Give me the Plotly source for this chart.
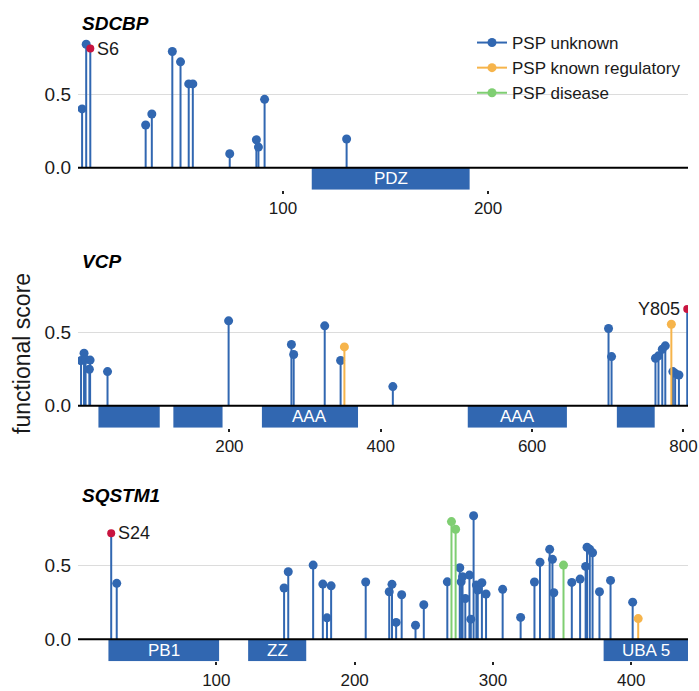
import plotly.graph_objects as go

# ---------------- data ----------------
sdcbp_unknown_pos = [2, 4, 33, 36, 46, 50, 54, 56, 74, 87, 88, 91, 131]
sdcbp_unknown_val = [0.40, 0.84, 0.29, 0.365, 0.79, 0.72, 0.57, 0.57, 0.095, 0.19, 0.14, 0.465, 0.195]
sdcbp_reg_pos, sdcbp_reg_val = [], []
sdcbp_dis_pos, sdcbp_dis_val = [], []
sdcbp_hi_pos, sdcbp_hi_val, sdcbp_hi_lab = [6], [0.81], ["S6"]
sdcbp_domains = [(114, 191, "PDZ")]
sdcbp_len = 297.5
sdcbp_ticks = [100, 200]

vcp_unknown_pos = [4, 8, 10, 15, 16, 39, 199, 282, 285, 326, 347, 416,
                   701, 705, 763, 767, 772, 776, 786, 789, 794]
vcp_unknown_val = [0.307, 0.357, 0.315, 0.248, 0.31, 0.232, 0.577, 0.416, 0.348, 0.543, 0.307, 0.13,
                   0.525, 0.334, 0.323, 0.339, 0.384, 0.407, 0.232, 0.22, 0.209]
vcp_reg_pos, vcp_reg_val = [352, 784], [0.40, 0.554]
vcp_dis_pos, vcp_dis_val = [], []
vcp_hi_pos, vcp_hi_val, vcp_hi_lab = [805], [0.657], ["Y805"]
vcp_domains = [(27, 108, ""), (126, 191, ""), (243, 370, "AAA"), (515, 646, "AAA"), (712, 762, "")]
vcp_len = 806
vcp_ticks = [200, 400, 600, 800]

sqstm1_unknown_pos = [28, 149, 152, 170, 177, 180, 183, 208, 225, 227, 230, 234, 244, 250,
                      267, 276, 277, 278, 280, 283, 284, 286, 288, 289, 292, 295,
                      307, 320, 330, 334, 341, 343, 344,
                      357, 363, 367, 368, 370, 372, 377, 385, 401]
sqstm1_unknown_val = [0.38, 0.348, 0.459, 0.504, 0.375, 0.145, 0.363, 0.389, 0.323, 0.373, 0.114, 0.302, 0.095, 0.234,
                      0.39, 0.486, 0.39, 0.425, 0.277, 0.436, 0.136, 0.84, 0.368, 0.334, 0.384, 0.307,
                      0.339, 0.148, 0.389, 0.523, 0.611, 0.543, 0.316,
                      0.386, 0.409, 0.495, 0.625, 0.611, 0.588, 0.323, 0.40, 0.252]
sqstm1_reg_pos, sqstm1_reg_val = [405], [0.14]
sqstm1_dis_pos, sqstm1_dis_val = [270, 273, 351], [0.80, 0.748, 0.504]
sqstm1_hi_pos, sqstm1_hi_val, sqstm1_hi_lab = [24], [0.72], ["S24"]
sqstm1_domains = [(22, 102, "PB1"), (123, 165, "ZZ"), (380, 441, "UBA 5")]
sqstm1_len = 441
sqstm1_ticks = [100, 200, 300, 400]

series_names = ["PSP unknown", "PSP known regulatory", "PSP disease"]
y_ticks = [0, 0.5]
y_ticktext = ["0.0", "0.5"]

# ---------------- style ----------------
BLUE = "#3167b1"
ORANGE = "#f6b44b"
GREEN = "#7fce72"
RED = "#c8143f"
TXT = "#1a1a1a"
FONT = "Liberation Sans, Arial, sans-serif"

panels = [
    dict(name="SDCBP", unk=(sdcbp_unknown_pos, sdcbp_unknown_val), reg=(sdcbp_reg_pos, sdcbp_reg_val),
         dis=(sdcbp_dis_pos, sdcbp_dis_val), hi=(sdcbp_hi_pos, sdcbp_hi_val, sdcbp_hi_lab),
         dom=sdcbp_domains, length=sdcbp_len, ticks=sdcbp_ticks, side=["left"]),
    dict(name="VCP", unk=(vcp_unknown_pos, vcp_unknown_val), reg=(vcp_reg_pos, vcp_reg_val),
         dis=(vcp_dis_pos, vcp_dis_val), hi=(vcp_hi_pos, vcp_hi_val, vcp_hi_lab),
         dom=vcp_domains, length=vcp_len, ticks=vcp_ticks, side=["right"]),
    dict(name="SQSTM1", unk=(sqstm1_unknown_pos, sqstm1_unknown_val), reg=(sqstm1_reg_pos, sqstm1_reg_val),
         dis=(sqstm1_dis_pos, sqstm1_dis_val), hi=(sqstm1_hi_pos, sqstm1_hi_val, sqstm1_hi_lab),
         dom=sqstm1_domains, length=sqstm1_len, ticks=sqstm1_ticks, side=["left"]),
]

W, H = 699, 691
ML, MR, MT, MB = 78, 11, 20, 10
PH = H - MT - MB
YMIN, YMAX = -0.15, 0.94
panel_tops_px = [29.5, 267.5, 501.0]
panel_h_px = (YMAX - YMIN) * 147


def py(px):
    return (H - MB - px) / PH


def stems(pos, val):
    xs, ys = [], []
    for p, v in zip(pos, val):
        xs += [p, p, None]
        ys += [0, v, None]
    return xs, ys


fig = go.Figure()
shapes = []
annotations = []

for i, pnl in enumerate(panels):
    k = "" if i == 0 else str(i + 1)
    xa, ya = "x" + k, "y" + k
    top = panel_tops_px[i]
    bottom = top + panel_h_px
    fig.update_layout(**{
        "xaxis" + k: dict(domain=[0, 1], range=[0, pnl["length"]], anchor=ya,
                          tickvals=pnl["ticks"], ticks="outside", ticklen=3, tickwidth=2,
                          tickcolor="#222", showgrid=False, zeroline=False, showline=False,
                          tickfont=dict(size=17, color=TXT, family=FONT)),
        "yaxis" + k: dict(domain=[py(bottom), py(top)], range=[YMIN, YMAX], anchor=xa,
                          tickvals=y_ticks, ticktext=y_ticktext, showgrid=True,
                          gridcolor="#dcdcdc", gridwidth=1, zeroline=False, showline=False,
                          ticks="", ticklabelstandoff=6,
                          tickfont=dict(size=19, color=TXT, family=FONT)),
    })

    # domain bars
    for (a, b, lab) in pnl["dom"]:
        shapes.append(dict(type="rect", xref=xa, yref=ya, x0=a, x1=b, y0=0, y1=-0.15,
                           fillcolor=BLUE, line=dict(width=0), layer="below"))
        if lab:
            annotations.append(dict(x=(a + b) / 2, y=-0.075, xref=xa, yref=ya, text=lab,
                                    showarrow=False, font=dict(size=17, color="white", family=FONT)))

    # stems: unknown (incl. highlighted), regulatory, disease
    hx, hy, hl = pnl["hi"]
    ux, uy = stems(list(pnl["unk"][0]) + list(hx), list(pnl["unk"][1]) + list(hy))
    fig.add_trace(go.Scatter(x=ux, y=uy, mode="lines", line=dict(color=BLUE, width=2),
                             xaxis=xa, yaxis=ya, showlegend=False, hoverinfo="skip"))
    fig.add_trace(go.Scatter(x=pnl["unk"][0], y=pnl["unk"][1], mode="markers",
                             marker=dict(color=BLUE, size=9), xaxis=xa, yaxis=ya, showlegend=False))
    for (pv, col) in [(pnl["reg"], ORANGE), (pnl["dis"], GREEN)]:
        if len(pv[0]):
            sx, sy = stems(pv[0], pv[1])
            fig.add_trace(go.Scatter(x=sx, y=sy, mode="lines", line=dict(color=col, width=2),
                                     xaxis=xa, yaxis=ya, showlegend=False, hoverinfo="skip"))
            fig.add_trace(go.Scatter(x=pv[0], y=pv[1], mode="markers",
                                     marker=dict(color=col, size=9), xaxis=xa, yaxis=ya, showlegend=False))
    fig.add_trace(go.Scatter(x=hx, y=hy, mode="markers", marker=dict(color=RED, size=8),
                             xaxis=xa, yaxis=ya, showlegend=False))
    for p, v, lab, sd in zip(hx, hy, hl, pnl["side"]):
        annotations.append(dict(x=p, y=v, xref=xa, yref=ya, text=lab, showarrow=False,
                                xanchor="left" if sd == "left" else "right",
                                xshift=5 if sd == "left" else -5,
                                font=dict(size=18, color=TXT, family=FONT)))

    # zero line over the bars
    shapes.append(dict(type="line", xref=xa, yref=ya, x0=0, x1=pnl["length"], y0=0, y1=0,
                       line=dict(color="black", width=2)))

    # gene title
    annotations.append(dict(x=0, y=py(top - 6), xref="paper", yref="paper", text="<b><i>%s</i></b>" % pnl["name"],
                            showarrow=False, xanchor="left", yanchor="middle", xshift=2,
                            font=dict(size=19, color="black", family=FONT)))

# legend-only traces
for name, col in zip(series_names, [BLUE, ORANGE, GREEN]):
    fig.add_trace(go.Scatter(x=[None], y=[None], mode="lines+markers", name=name,
                             line=dict(color=col, width=2), marker=dict(color=col, size=9)))

annotations.append(dict(x=(22 - ML) / (W - ML - MR), y=py(354), xref="paper", yref="paper",
                        text="functional score", textangle=-90, showarrow=False,
                        xanchor="center", yanchor="middle",
                        font=dict(size=23, color=TXT, family=FONT)))

fig.update_layout(
    width=W, height=H,
    margin=dict(l=ML, r=MR, t=MT, b=MB, autoexpand=False),
    paper_bgcolor="white", plot_bgcolor="white",
    shapes=shapes, annotations=annotations,
    showlegend=True,
    legend=dict(x=(472 - ML) / (W - ML - MR), y=py(25), xanchor="left", yanchor="top",
                bgcolor="rgba(0,0,0,0)", font=dict(size=17, color=TXT, family=FONT),
                tracegroupgap=0),
    font=dict(family=FONT, color=TXT),
)

fig.write_html("out.html", config={"displayModeBar": False},
               post_script="document.body.style.margin='0px';")
